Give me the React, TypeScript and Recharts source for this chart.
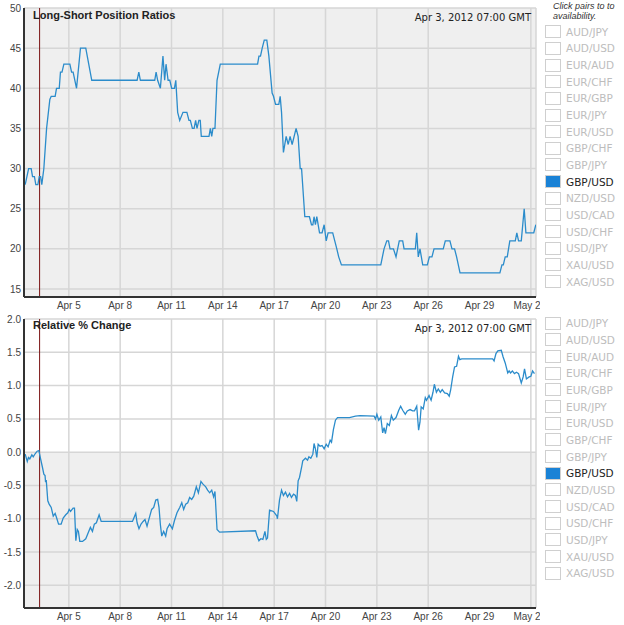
import React from "react"
import {
  LineChart,
  Line,
  XAxis,
  YAxis,
  CartesianGrid,
  ReferenceLine,
  ReferenceArea,
} from "recharts"

// x values are days of April 2012 (May 2 = 32)
const dateTicks = [5, 8, 11, 14, 17, 20, 23, 26, 29, 32]
const dateLabels = ["Apr 5", "Apr 8", "Apr 11", "Apr 14", "Apr 17", "Apr 20", "Apr 23", "Apr 26", "Apr 29", "May 2"]
const markerDay = 3 + 7 / 24 // Apr 3, 07:00 GMT
const markerLabel = "Apr 3, 2012 07:00 GMT"

const ratioTicks = [15, 20, 25, 30, 35, 40, 45, 50]
const changeTicks = [-2.0, -1.5, -1.0, -0.5, 0.0, 0.5, 1.0, 1.5, 2.0]

const pairs = [
  "AUD/JPY", "AUD/USD", "EUR/AUD", "EUR/CHF", "EUR/GBP", "EUR/JPY", "EUR/USD", "GBP/CHF",
  "GBP/JPY", "GBP/USD", "NZD/USD", "USD/CAD", "USD/CHF", "USD/JPY", "XAU/USD", "XAG/USD",
]
const selectedPair = "GBP/USD"

// Long-Short position ratios
const ratioDays = [
  2.45, 2.65, 2.8, 2.88, 2.99, 3.07, 3.19, 3.27, 3.35, 3.42, 3.54, 3.7, 3.89, 3.97, 4.2, 4.28, 4.44, 4.51, 4.6, 4.71,
  5.06, 5.16, 5.25, 5.45, 5.68, 5.99, 6.34, 8.99, 9.09, 9.18, 10.02, 10.1, 10.19, 10.35, 10.5, 10.6, 10.68, 10.8, 10.9, 11.01,
  11.17, 11.25, 11.36, 11.48, 11.67, 11.9, 12.02, 12.1, 12.22, 12.32, 12.41, 12.49, 12.6, 12.68, 12.74, 13.19, 13.27, 13.35, 13.42, 13.54,
  13.66, 13.85, 16.03, 16.11, 16.2, 16.3, 16.42, 16.57, 16.69, 16.88, 16.96, 17.08, 17.27, 17.35, 17.43, 17.54, 17.7, 17.82, 17.93, 18.05,
  18.28, 18.4, 18.52, 18.6, 18.79, 19.06, 19.18, 19.26, 19.33, 19.41, 19.49, 19.65, 19.8, 19.92, 20.04, 20.15, 20.42, 20.54, 20.66, 20.77,
  20.93, 23.23, 23.42, 23.58, 23.68, 23.77, 23.97, 24.12, 24.31, 24.51, 24.59, 25.25, 25.33, 25.42, 25.52, 25.68, 25.95, 26.07, 26.22, 26.34,
  26.88, 27.0, 27.27, 27.39, 27.54, 27.66, 27.86, 30.19, 30.31, 30.39, 30.5, 30.62, 30.77, 31.09, 31.18, 31.28, 31.44, 31.61, 31.71, 32.17,
  32.29,
]
const ratioValues = [
  28, 30, 30, 29, 29, 28, 28, 29, 29, 28, 30, 35, 38.6, 39, 39, 40, 40, 42, 42, 43,
  43, 42, 42, 40, 45, 45, 41, 41, 42, 41, 41, 42, 41, 40, 44, 41, 43, 41, 41, 40,
  40, 41, 37, 36, 37, 37, 36, 36, 35, 35, 36, 35, 36, 36, 34, 34, 35, 34, 35, 35,
  41, 43, 43, 44, 44, 45, 46, 46, 44, 39.4, 39, 38, 38, 39, 37, 32, 34, 33, 34, 33,
  35, 34, 30, 30, 24, 24, 23, 23, 24, 23, 24, 22, 22, 23, 21, 22, 22, 21, 20, 19,
  18, 18, 20, 21, 21, 20, 20, 19, 21, 21, 20, 20, 22, 19, 20, 18, 18, 19, 19, 20,
  20, 21, 21, 20, 20, 19, 17, 17, 18, 18, 19, 19, 21, 21, 22, 21, 21, 25, 22, 22,
  23,
]

// Relative % change
const changeDays = [
  2.45, 2.57, 2.64, 2.72, 2.84, 2.92, 3.04, 3.15, 3.25, 3.35, 3.46, 3.54, 3.61, 3.64, 3.68, 3.77, 3.85, 3.97, 4.09, 4.2,
  4.28, 4.4, 4.55, 4.67, 4.82, 4.94, 5.02, 5.1, 5.25, 5.33, 5.41, 5.49, 5.56, 5.64, 5.8, 5.99, 6.15, 6.26, 6.38, 6.49,
  6.61, 6.77, 6.89, 8.72, 8.8, 8.91, 8.99, 9.1, 9.22, 9.34, 9.45, 9.57, 9.73, 9.84, 9.96, 10.08, 10.19, 10.27, 10.35, 10.43,
  10.54, 10.66, 10.74, 10.89, 11.05, 11.17, 11.32, 11.48, 11.6, 11.71, 11.83, 11.95, 12.06, 12.18, 12.3, 12.45, 12.57, 12.72, 12.84, 13.0,
  13.11, 13.23, 13.35, 13.46, 13.54, 13.66, 13.81, 15.91, 15.99, 16.11, 16.22, 16.34, 16.46, 16.54, 16.61, 16.73, 16.96, 17.16, 17.19, 17.31,
  17.43, 17.54, 17.66, 17.78, 17.9, 18.01, 18.13, 18.24, 18.32, 18.4, 18.48, 18.6, 18.67, 18.83, 18.95, 19.03, 19.14, 19.26, 19.33, 19.41,
  19.49, 19.57, 19.68, 19.8, 19.92, 20.04, 20.15, 20.27, 20.35, 20.46, 20.58, 20.7, 21.05, 21.4, 21.75, 22.02, 22.84, 22.92, 23.0, 23.11,
  23.23, 23.34, 23.42, 23.5, 23.61, 23.73, 23.85, 23.96, 24.12, 24.28, 24.39, 24.51, 24.66, 24.78, 24.94, 25.09, 25.2, 25.33, 25.44, 25.52,
  25.59, 25.71, 25.83, 25.9, 26.05, 26.17, 26.28, 26.36, 26.48, 26.59, 26.71, 26.82, 26.96, 27.12, 27.23, 27.31, 27.43, 27.54, 27.66, 27.77,
  27.85, 27.96, 29.77, 29.85, 29.96, 30.07, 30.27, 30.38, 30.5, 30.65, 30.73, 30.81, 30.92, 31.04, 31.16, 31.28, 31.44, 31.55, 31.63, 31.74,
  31.9, 32.0, 32.1, 32.21,
]
const changeValues = [
  -0.03, -0.14, -0.08, -0.1, -0.04, -0.07, -0.02, 0.015, 0.025, -0.1, -0.23, -0.33, -0.35, -0.45, -0.42, -0.73, -0.78, -0.83, -0.96, -0.92,
  -0.98, -1.08, -1.08, -0.99, -0.94, -0.91, -0.86, -0.89, -0.84, -0.84, -1.33, -1.16, -1.19, -1.34, -1.34, -1.3, -1.2, -1.13, -1.19, -1.08,
  -1.06, -0.94, -1.04, -1.04, -0.99, -0.92, -1.06, -1.15, -1.08, -1.04, -1.01, -1.11, -0.96, -0.86, -0.83, -0.72, -0.71, -0.83, -1.09, -1.26,
  -1.19, -1.26, -1.15, -1.08, -1.15, -1.03, -0.91, -0.83, -0.76, -0.86, -0.78, -0.76, -0.68, -0.71, -0.66, -0.52, -0.61, -0.44, -0.48, -0.52,
  -0.57, -0.61, -0.57, -0.67, -0.59, -1.16, -1.2, -1.18, -1.25, -1.33, -1.3, -1.31, -1.19, -1.31, -1.29, -0.87, -0.89, -0.96, -1.0, -0.72,
  -0.57, -0.65, -0.6, -0.67, -0.62, -0.68, -0.63, -0.65, -0.74, -0.43, -0.38, -0.23, -0.13, -0.09, -0.12, -0.07, -0.09, -0.03, 0.13, 0.05,
  -0.08, 0.12, 0.09, 0.1, 0.05, 0.12, 0.08, 0.18, 0.15, 0.34, 0.48, 0.52, 0.52, 0.52, 0.54, 0.55, 0.54, 0.5, 0.57, 0.48,
  0.53, 0.29, 0.37, 0.28, 0.43, 0.4, 0.55, 0.48, 0.52, 0.63, 0.69, 0.63, 0.57, 0.62, 0.64, 0.62, 0.62, 0.69, 0.33, 0.45,
  0.68, 0.65, 0.82, 0.78, 0.85, 0.78, 0.9, 1.02, 0.9, 0.95, 0.9, 0.94, 0.89, 0.88, 0.84, 0.93, 1.13, 1.28, 1.29, 1.44,
  1.39, 1.4, 1.4, 1.37, 1.48, 1.52, 1.53, 1.43, 1.34, 1.19, 1.22, 1.19, 1.22, 1.18, 1.2, 1.18, 1.04, 1.13, 1.25, 1.1,
  1.13, 1.14, 1.22, 1.18,
]

const ratioData = ratioDays.map((day, i) => ({ day, value: ratioValues[i] }))
const changeData = changeDays.map((day, i) => ({ day, value: changeValues[i] }))

const xDomain = [2.38, 32.3]
const ratioDomain = [14, 50]
const changeDomain = [-2.34, 2.0]

const tickStyle = { fontFamily: "'Liberation Sans', Arial, sans-serif", fontSize: 10, fill: "#444" }
const lineColor = "#2b8ccb"
const gridColor = "#d6d6d6"
const axisColor = "#333"

function dateLabel(v: number) {
  const i = dateTicks.indexOf(v)
  return i >= 0 ? dateLabels[i] : ""
}

function PairList({ top }: { top: number }) {
  return (
    <div style={{ position: "absolute", left: 545, top, width: 79 }}>
      {pairs.map((p) => {
        const on = p === selectedPair
        return (
          <div key={p} style={{ height: 16.67, display: "flex", alignItems: "center" }}>
            <div
              style={{
                width: 14,
                height: 11,
                border: "1px solid #cfcfcf",
                background: on ? "#1a82d6" : "#fff",
                boxSizing: "content-box",
              }}
            />
            <span
              style={{
                marginLeft: 5,
                fontFamily: "'DejaVu Sans', Verdana, sans-serif",
                fontSize: 10.5,
                color: on ? "#222" : "#bdbdbd",
                whiteSpace: "nowrap",
              }}
            >
              {p}
            </span>
          </div>
        )
      })}
    </div>
  )
}

function Panel({
  data,
  domain,
  ticks,
  fmt,
  zeroShade,
}: {
  data: { day: number; value: number }[]
  domain: number[]
  ticks: number[]
  fmt: (v: number) => string
  zeroShade?: boolean
}) {
  return (
    <LineChart width={540} height={318} data={data} margin={{ top: 8, right: 4, left: 0, bottom: 0 }}>
      {zeroShade && (
        <ReferenceArea y1={domain[0]} y2={0} fill="#efefef" fillOpacity={1} stroke="none" zIndex={-200} />
      )}
      <CartesianGrid stroke={gridColor} strokeWidth={1.5} fill={zeroShade ? undefined : "#efefef"} />
      <XAxis
        dataKey="day"
        type="number"
        domain={xDomain}
        ticks={dateTicks}
        tickFormatter={dateLabel}
        allowDataOverflow
        height={21}
        tickLine={false}
        tickSize={3}
        tickMargin={2}
        tick={tickStyle}
        axisLine={{ stroke: axisColor, strokeWidth: 2 }}
      />
      <YAxis
        type="number"
        domain={domain}
        ticks={ticks}
        tickFormatter={fmt}
        allowDataOverflow
        width={24}
        tickLine={false}
        tickSize={2}
        tickMargin={1}
        tick={tickStyle}
        axisLine={{ stroke: axisColor, strokeWidth: 2 }}
      />
      <ReferenceLine x={markerDay} stroke="#7a1212" strokeWidth={1} />
      <Line
        type="linear"
        dataKey="value"
        stroke={lineColor}
        strokeWidth={1.3}
        dot={false}
        activeDot={false}
        isAnimationActive={false}
      />
    </LineChart>
  )
}

const titleStyle: React.CSSProperties = {
  position: "absolute",
  left: 33,
  fontFamily: "'Liberation Sans', Arial, sans-serif",
  fontWeight: "bold",
  fontSize: 11,
  color: "#222",
}
const stampStyle: React.CSSProperties = {
  position: "absolute",
  right: 93,
  fontFamily: "'DejaVu Sans', Verdana, sans-serif",
  fontSize: 10,
  color: "#222",
  whiteSpace: "nowrap",
}

export default function App() {
  return (
    <div style={{ position: "absolute", left: 0, top: 0, width: 624, height: 625, background: "#fff", overflow: "hidden" }}>
      <div style={{ position: "absolute", left: 0, top: 0 }}>
        <Panel data={ratioData} domain={ratioDomain} ticks={ratioTicks} fmt={(v) => String(v)} />
      </div>
      <div style={{ position: "absolute", left: 0, top: 311 }}>
        <Panel data={changeData} domain={changeDomain} ticks={changeTicks} fmt={(v) => v.toFixed(1)} zeroShade />
      </div>

      <div style={{ ...titleStyle, top: 9 }}>Long-Short Position Ratios</div>
      <div style={{ ...titleStyle, top: 319 }}>Relative % Change</div>
      <div style={{ ...stampStyle, top: 12 }}>{markerLabel}</div>
      <div style={{ ...stampStyle, top: 323 }}>{markerLabel}</div>

      <div
        style={{
          position: "absolute",
          left: 553,
          top: 2,
          fontFamily: "Arial, 'Liberation Sans', sans-serif",
          fontStyle: "italic",
          fontSize: 9,
          lineHeight: "9.5px",
          color: "#333",
          whiteSpace: "nowrap",
        }}
      >
        Click pairs to to
        <br />
        availability.
      </div>
      <PairList top={23.4} />
      <PairList top={315} />
    </div>
  )
}
